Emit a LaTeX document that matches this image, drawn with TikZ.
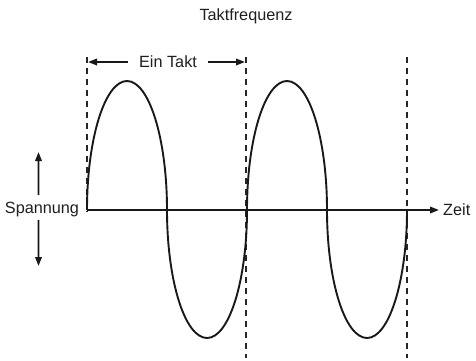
\documentclass[tikz,border=0pt]{standalone}
\usepackage{fontspec}
\setmainfont{Liberation Sans}
\usetikzlibrary{arrows.meta}
\begin{document}
\begin{tikzpicture}[x=1bp,y=-1bp,
  lbl/.style={font=\fontsize{16.3}{19}\selectfont, text=black!88, inner sep=0pt},
  stroke/.style={line width=1.9bp, draw=black!90},
  guide/.style={line width=2bp, draw=black!85, dash pattern=on 6bp off 5bp},
  arr/.style={stroke, -{Triangle[length=9bp,width=6.5bp]}}]
\useasboundingbox (0,0) rectangle (476,360);
% guides
\coordinate (g1t) at (86.5,57); \coordinate (g1b) at (86.5,212);
\coordinate (g2t) at (246,57);  \coordinate (g2b) at (246,358);
\coordinate (g3t) at (407,57);  \coordinate (g3b) at (407,358);
\draw[guide] (g1t) -- (g1b);
\draw[guide] (g2t) -- (g2b);
\draw[guide] (g3t) -- (g3b);
% title
\node[lbl] (title) at (246,16) {Taktfrequenz};
% Ein Takt
\node[lbl] (takt) at (168,62) {Ein Takt};
\coordinate (tl) at (88,62); \coordinate (tr) at (245,62);
\draw[arr] ([xshift=-11bp]takt.west) -- (tl);
\draw[arr] ([xshift=11bp]takt.east) -- (tr);
% axis
\coordinate (o) at (86.5,210);
\coordinate (xe) at (439,210);
\draw[arr] (o) -- (xe);
\node[lbl, anchor=west] (zeit) at (443,210) {Zeit};
% Spannung
\node[lbl] (span) at (42,210) {Spannung};
\coordinate (up) at (38.5,152);
\coordinate (dn) at (38.5,266);
\draw[arr] ([xshift=-3.5bp,yshift=7.4bp]span.north) -- (up);
\draw[arr] ([xshift=-3.5bp,yshift=-2.4bp]span.south) -- (dn);
% wave (four half-elliptic lobes)
\coordinate (w0) at (87,210);
\draw[stroke, line join=round] (w0)
  arc[start angle=180, end angle=360, x radius=40, y radius=129]
  arc[start angle=180, end angle=0, x radius=40, y radius=128]
  arc[start angle=180, end angle=360, x radius=40, y radius=129]
  arc[start angle=180, end angle=0, x radius=40, y radius=128];
\end{tikzpicture}
\end{document}
